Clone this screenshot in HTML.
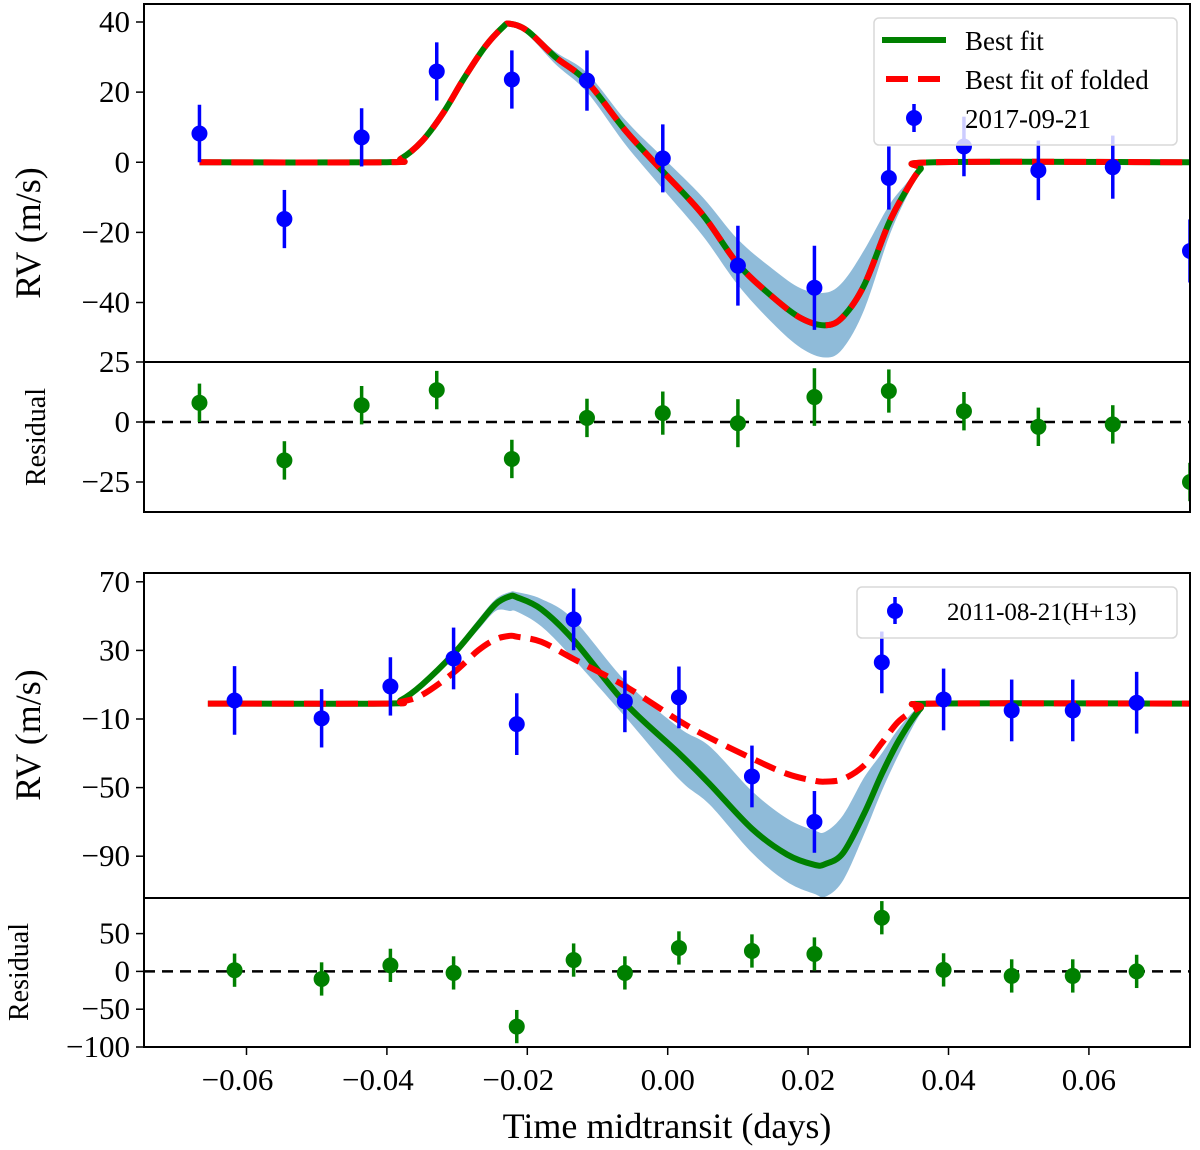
<!DOCTYPE html>
<html><head><meta charset="utf-8">
<style>
html,body{margin:0;padding:0;background:#fff;}
svg{display:block;font-family:"Liberation Serif",serif;}
</style></head>
<body>
<svg id="chart" width="1200" height="1150" viewBox="0 0 1200 1150" xmlns="http://www.w3.org/2000/svg"></svg>
<script>
// ---- Data: top panel (2017-09-21) ----
const topTimes = [-0.0667,-0.0546,-0.0436,-0.0329,-0.0222,-0.0115,-0.0007,0.0100,0.0209,0.0315,0.0422,0.0528,0.0634,0.0744];
const topRV    = [8.2,-16.2,7.1,25.9,23.6,23.3,1.1,-29.5,-35.8,-4.5,4.5,-2.3,-1.4,-25.3];
const topErr   = [8.2,8.3,8.3,8.3,8.3,8.6,9.7,11.4,12,9,8.5,8.5,9,9];
const topRes   = [8,-16,7,13.3,-15.4,1.7,3.7,-0.5,10.4,12.9,4.5,-2,-1,-25];
const topResErr= [8,8,8,8,8,8,9,10,12,9,8,8,8,8];
const topModelT = [-0.0667,-0.040,-0.038,-0.035,-0.032,-0.029,-0.026,-0.0235,-0.0225,-0.020,-0.016,-0.0115,-0.006,-0.0007,0.005,0.010,0.015,0.019,0.0225,0.025,0.028,0.0315,0.034,0.036,0.038,0.0744];
const topModel  = [0,0,1,6,14,24,33,38.5,39.5,37.5,30,23,9,-2.6,-15,-29,-38.5,-44.5,-46.5,-44,-35,-17.4,-8,-2,0,0];
const topBandLo = [0,0,1,6,14,24,33,38,39,36.5,28,20,5,-7.6,-21,-35,-46,-53,-55.7,-53,-42,-21.4,-10,-3,0,0];
const topBandHi = [0,0,1,6,14,24,33,39,40,38.5,31.5,25.5,12,1.4,-10,-22,-30.5,-36,-37.2,-34,-25,-12.4,-6,-1,0,0];
// ---- Data: bottom panel (2011-08-21 H+13) ----
const botTimes = [-0.0617,-0.0493,-0.0395,-0.0305,-0.0215,-0.0134,-0.0061,0.0016,0.0120,0.0209,0.0305,0.0393,0.0490,0.0577,0.0668];
const botRV    = [0.8,-9.6,9,25.3,-13,48.1,0.3,2.6,-43.5,-70,23,1.4,-5,-5,-0.5];
const botErr   = [20,17,17,18,18,18,18,18,18,18,18,18,18,18,18];
const botRes   = [1.6,-10,8,-2,-73,15,-2,31,27,23,71,2,-6,-6,0];
const botResErr= [22,22,22,22,22,22,22,22,22,22,22,22,22,22,22];
const botModelT = [-0.0655,-0.040,-0.038,-0.035,-0.0305,-0.027,-0.0245,-0.0225,-0.0215,-0.018,-0.0134,-0.006,0.0016,0.006,0.012,0.017,0.0209,0.0225,0.025,0.028,0.0305,0.033,0.036,0.038,0.0744];
const botGreen  = [-1,-1,1,10,28,45,57,61.5,61,54,36,-1,-30,-48,-74,-89,-95,-94.5,-88,-65,-42,-22,-4,-1,-1];
const botRed    = [-1,-1,0,4,17,30,36.5,38.5,38,35,25,9,-11,-21,-33,-42,-46,-46.5,-45,-37,-24,-11,-3,-1,-1];
const botBandLo = [-1,-1,1,9,26,42,53,53,52.6,44,25,-9,-45,-60,-88,-105,-112,-113.6,-104,-77,-52,-30,-7,-1,-1];
const botBandHi = [-1,-1,1,11,30,48,60,64,64,60,48,12,-15,-26,-52,-68,-75,-75.7,-66,-44,-30,-15,-2,-1,-1];
// ---- Tick labels ----
const xTicks = [-0.06,-0.04,-0.02,0.00,0.02,0.04,0.06];
const xTickLabels = ["\u22120.06","\u22120.04","\u22120.02","0.00","0.02","0.04","0.06"];
const topYTicks = [40,20,0,-20,-40];
const topResTicks = [25,0,-25];
const botYTicks = [70,30,-10,-50,-90];
const botResTicks = [50,0,-50,-100];

const NS="http://www.w3.org/2000/svg";
const svg=document.getElementById('chart');
function mk(tag,attrs,parent){const e=document.createElementNS(NS,tag);for(const k in attrs)e.setAttribute(k,attrs[k]);(parent||svg).appendChild(e);return e;}
const X0=144,X1=1190,TMIN=-0.0746,TMAX=0.0744;
const sx=t=>X0+(t-TMIN)/(TMAX-TMIN)*(X1-X0);
function yScale(vTop,yTop,vBot,yBot){return v=>yTop+(v-vTop)/(vBot-vTop)*(yBot-yTop);}
const yTop=yScale(40,22,-40,302.5);
const yTopRes=yScale(25,362,-25,482);
const yBot=yScale(70,581.8,-90,856.2);
const yBotRes=yScale(50,933.6,-100,1047);
const fmt=v=>(v<0?"\u2212"+Math.abs(v):""+v);

// smooth path through points (Catmull-Rom -> cubic Bezier)
function smooth(pts,start){
  let d=(start?'M':'L')+pts[0][0]+','+pts[0][1];
  for(let i=0;i<pts.length-1;i++){
    const p0=pts[Math.max(i-1,0)],p1=pts[i],p2=pts[i+1],p3=pts[Math.min(i+2,pts.length-1)];
    const c1=[p1[0]+(p2[0]-p0[0])/6,p1[1]+(p2[1]-p0[1])/6];
    const c2=[p2[0]-(p3[0]-p1[0])/6,p2[1]-(p3[1]-p1[1])/6];
    d+='C'+c1[0]+','+c1[1]+' '+c2[0]+','+c2[1]+' '+p2[0]+','+p2[1];
  }
  return d;
}

function clip(id,y0,y1){const d=mk('clipPath',{id:id});mk('rect',{x:X0,y:y0,width:X1-X0,height:y1-y0},d);}
clip('c1',4,362);clip('c2',362,512);clip('c3',573,898);clip('c4',898,1047);

function yAxis(ticks,ys,name){
  const g=mk('g',{});
  
  
  ticks.forEach(v=>{
    const y=ys(v);
    mk('line',{x1:X0-8,x2:X0,y1:y,y2:y,stroke:'#000','stroke-width':1.5},g);
    const t=mk('text',{x:X0-14,y:y+10,'text-anchor':'end','font-size':31},g);
    t.textContent=fmt(v);
  });
}
function band(ts,lo,hi,ys,cp,name){
  const up=ts.map((t,i)=>[sx(t),ys(hi[i])]);
  const dn=ts.map((t,i)=>[sx(t),ys(lo[i])]).reverse();
  const d=smooth(up,true)+smooth(dn,false)+'Z';
  const p=mk('path',{d:d,fill:'#8fbbd9','clip-path':'url(#'+cp+')'});
  
  
}
function curve(ts,vs,ys,color,dash,cp,name){
  const d=smooth(ts.map((t,i)=>[sx(t),ys(vs[i])]),true);
  const a={d:d,fill:'none',stroke:color,'stroke-width':6,'stroke-linejoin':'round','clip-path':'url(#'+cp+')'};
  if(dash)a['stroke-dasharray']='22,10';
  const p=mk('path',a);
  
  
}
function points(ts,vs,es,ys,color,cp,name){
  const g=mk('g',{'clip-path':'url(#'+cp+')'});
  
  
  ts.forEach((t,i)=>{
    const x=sx(t);
    mk('line',{x1:x,x2:x,y1:ys(vs[i]+es[i]),y2:ys(vs[i]-es[i]),stroke:color,'stroke-width':3.5},g);
    const c=mk('circle',{cx:x,cy:ys(vs[i]),r:8,fill:color},g);
    
    
  });
}
function zero(ys,cp,name){
  const l=mk('line',{x1:X0,x2:X1,y1:ys(0),y2:ys(0),stroke:'#000','stroke-width':2.5,'stroke-dasharray':'11,7','clip-path':'url(#'+cp+')'});
  
  
}

// Top panel
band(topModelT,topBandLo,topBandHi,yTop,'c1','top-uncertainty-band');
curve(topModelT,topModel,yTop,'#008000',false,'c1','top-best-fit');
curve(topModelT,topModel,yTop,'#ff0000',true,'c1','top-best-fit-folded');
points(topTimes,topRV,topErr,yTop,'#0000ff','c1','top-rv-data');
// Top residual
zero(yTopRes,'c2','top-residual-zero-line');
points(topTimes,topRes,topResErr,yTopRes,'#008000','c2','top-residuals');
// Bottom panel
band(botModelT,botBandLo,botBandHi,yBot,'c3','bottom-uncertainty-band');
curve(botModelT,botGreen,yBot,'#008000',false,'c3','bottom-best-fit');
curve(botModelT,botRed,yBot,'#ff0000',true,'c3','bottom-best-fit-folded');
points(botTimes,botRV,botErr,yBot,'#0000ff','c3','bottom-rv-data');
// Bottom residual
zero(yBotRes,'c4','bottom-residual-zero-line');
points(botTimes,botRes,botResErr,yBotRes,'#008000','c4','bottom-residuals');

// frames
[[4,362],[362,512],[573,898],[898,1047]].forEach((r,i)=>{
  const f=mk('rect',{x:X0,y:r[0],width:X1-X0,height:r[1]-r[0],fill:'none',stroke:'#000','stroke-width':2});
  
  
});
yAxis(topYTicks,yTop,'top-y-axis');
yAxis(topResTicks,yTopRes,'top-residual-y-axis');
yAxis(botYTicks,yBot,'bottom-y-axis');
yAxis(botResTicks,yBotRes,'bottom-residual-y-axis');
// x axis
const gx=mk('g',{});


xTicks.forEach((v,i)=>{
  const x=sx(v);
  mk('line',{x1:x,x2:x,y1:1047,y2:1055,stroke:'#000','stroke-width':1.5},gx);
  const t=mk('text',{x:x-(v<0?9:0),y:1090,'text-anchor':'middle','font-size':31},gx);
  t.textContent=xTickLabels[i];
});
function label(txt,x,y,size,rot,name){
  const t=mk('text',{x:x,y:y,'text-anchor':'middle','font-size':size,transform:rot?'rotate(-90 '+x+' '+y+')':''});
  t.textContent=txt;
  
  
}
label('Time midtransit (days)',667,1138,36,false,'x-axis-title');
label('RV (m/s)',40,233,36,true,'top-y-axis-title');
label('Residual',45,437,28,true,'top-residual-y-axis-title');
label('RV (m/s)',40,735,36,true,'bottom-y-axis-title');
label('Residual',28,972,28,true,'bottom-residual-y-axis-title');

// Legend 1
const lg=mk('g',{});


mk('rect',{x:874,y:18,width:303,height:127,rx:5,fill:'#fff','fill-opacity':0.8,stroke:'#d8d8d8','stroke-width':1.5},lg);
mk('line',{x1:882,x2:946,y1:40,y2:40,stroke:'#008000','stroke-width':6},lg);
mk('line',{x1:886,x2:946,y1:79,y2:79,stroke:'#ff0000','stroke-width':6,'stroke-dasharray':'22,10'},lg);
mk('line',{x1:914,x2:914,y1:104,y2:132,stroke:'#0000ff','stroke-width':3.5},lg);
mk('circle',{cx:914,cy:118,r:8,fill:'#0000ff'},lg);
[['Best fit',50],['Best fit of folded',89],['2017-09-21',128]].forEach(e=>{
  const t=mk('text',{x:965,y:e[1],'font-size':27},lg);t.textContent=e[0];
  
  
});
// Legend 2
const lg2=mk('g',{});


mk('rect',{x:857,y:587,width:320,height:51,rx:5,fill:'#fff','fill-opacity':0.8,stroke:'#d8d8d8','stroke-width':1.5},lg2);
mk('line',{x1:895,x2:895,y1:597,y2:624,stroke:'#0000ff','stroke-width':3.5},lg2);
mk('circle',{cx:895,cy:611,r:8,fill:'#0000ff'},lg2);
const t2=mk('text',{x:947,y:620,'font-size':25},lg2);t2.textContent='2011-08-21(H+13)';


</script>
</body></html>
